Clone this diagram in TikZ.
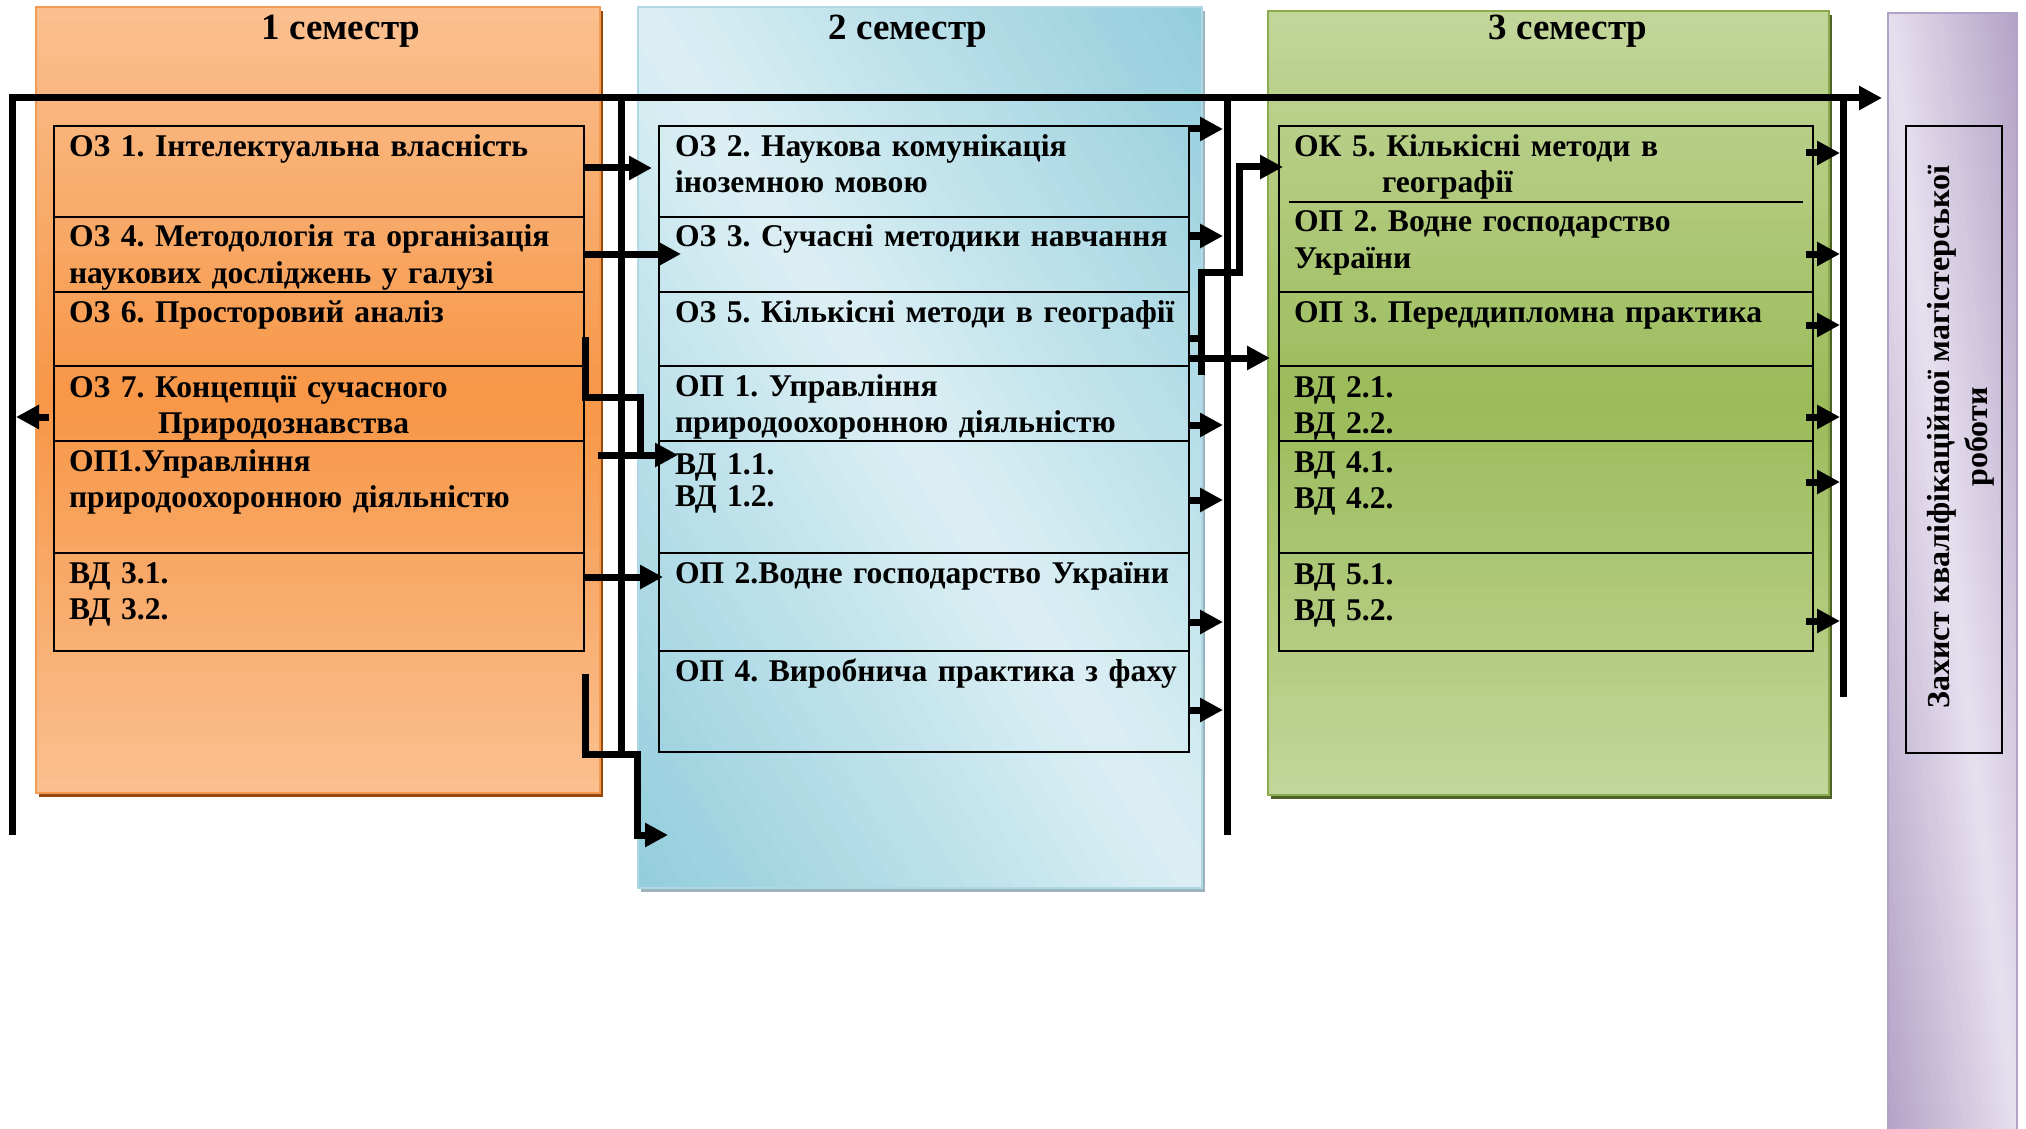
\documentclass[tikz,border=0pt]{standalone}
\usepackage{fontspec}
\setmainfont{Liberation Serif}
\usetikzlibrary{arrows.meta,calc}
\definecolor{orL}{HTML}{FAC090}
\definecolor{orD}{HTML}{F79646}
\definecolor{orS}{HTML}{984807}
\definecolor{orB}{HTML}{F49B53}
\definecolor{blL}{HTML}{DCEFF4}
\definecolor{blD}{HTML}{92CDDC}
\definecolor{blS}{HTML}{9BB3BC}
\definecolor{blB}{HTML}{B0D8E4}
\definecolor{grL}{HTML}{C3D69B}
\definecolor{grD}{HTML}{9BBB59}
\definecolor{grS}{HTML}{4F6228}
\definecolor{grB}{HTML}{8CAA4E}
\definecolor{puL}{HTML}{E6E0EE}
\definecolor{puD}{HTML}{B3A2C7}
\frenchspacing
\newcommand\myrowfont{\fontsize{15.8}{18}\selectfont\bfseries\frenchspacing}
\newcommand\mytitlefont{\fontsize{18.5}{22}\selectfont\bfseries}
\newcommand\mysidefont{\fontsize{16}{19}\selectfont\bfseries}
\begin{document}
\begin{tikzpicture}[x=0.5pt,y=-0.5pt,
  panel/.style={anchor=north west, inner sep=0pt, outer sep=0pt, line width=0.6pt},
  row/.style={draw, line width=1pt, anchor=north west, inner sep=0pt, outer sep=0pt},
  rt/.style={anchor=base west, inner sep=0pt, outer sep=0pt, font=\myrowfont, align=left, text width=275pt},
  ttl/.style={anchor=base, inner sep=0pt, font=\mytitlefont},
  conn/.style={line width=3.5pt, line join=miter},
  arr/.style={conn, -{Triangle[length=11.5pt,width=11.5pt]}}
]
\path[use as bounding box, fill=white] (0,0) rectangle (2026,1129);

% ---------- panel shadows ----------
\fill[orS] (39,11) rectangle (603,797);
\fill[blS] (641,11) rectangle (1205,892);
\fill[grS] (1271,15) rectangle (1832,799);

% ---------- panel gradients ----------
% orange: vertical light-dark-light
\foreach \i in {0,...,63}{
  \pgfmathtruncatemacro\pp{100*(1-abs(2*(\i+0.5)/64-1))}
  \fill[orD!\pp!orL] (36,{7+\i*12.28125}) rectangle (600,{7+(\i+1)*12.28125+0.8});
}
% green: vertical light-dark-light
\foreach \i in {0,...,63}{
  \pgfmathtruncatemacro\pp{100*(1-abs(2*(\i+0.5)/64-1))}
  \fill[grD!\pp!grL] (1268,{11+\i*12.25}) rectangle (1829,{11+(\i+1)*12.25+0.8});
}
% blue: diagonal, light along top-left to bottom-right
\begin{scope}
\clip (638,7) rectangle (1202,888);
\foreach \k in {0,...,47}{
  \pgfmathsetmacro\ta{-1+2*\k/48}
  \pgfmathsetmacro\tb{\ta+2/48+0.01}
  \pgfmathtruncatemacro\pp{100*abs(\ta+1/48)}
  \fill[blD!\pp!blL] ({638+\ta*564},7) -- ({638+\tb*564},7) -- ({638+(\tb+1)*564},888) -- ({638+(\ta+1)*564},888) -- cycle;
}
\end{scope}
% purple: diagonal
\begin{scope}
\clip (1888,13) rectangle (2017,1129);
\foreach \k in {0,...,47}{
  \pgfmathsetmacro\ta{-1+2*\k/48}
  \pgfmathsetmacro\tb{\ta+2/48+0.01}
  \pgfmathtruncatemacro\pp{100*abs(\ta+1/48)}
  \fill[puD!\pp!puL] ({1888+\ta*129},13) -- ({1888+\tb*129},13) -- ({1888+(\tb+1)*129},1129) -- ({1888+(\ta+1)*129},1129) -- cycle;
}
\end{scope}

% ---------- panels (outlines) ----------
\node[panel, minimum width=282pt, minimum height=393pt, draw=orB] (p1) at (36,7) {};
\node[panel, minimum width=282pt, minimum height=440.5pt, draw=blB] (p2) at (638,7) {};
\node[panel, minimum width=280.5pt, minimum height=392pt, draw=grB] (p3) at (1268,11) {};
\node[panel, minimum width=64.5pt, minimum height=560pt, draw=puD] (p4) at (1888,13) {};

% ---------- titles ----------
\node[ttl] (h1) at (341,40) {1 семестр};
\node[ttl] (h2) at (908,40) {2 семестр};
\node[ttl] (h3) at (1568,40) {3 семестр};

% ---------- table 1 ----------
\node[row, minimum width=265pt, minimum height=45.5pt] (r11) at (54,126) {};
\node[row, minimum width=265pt, minimum height=37.5pt] (r12) at (54,217) {};
\node[row, minimum width=265pt, minimum height=37pt]   (r13) at (54,292) {};
\node[row, minimum width=265pt, minimum height=37.5pt] (r14) at (54,366) {};
\node[row, minimum width=265pt, minimum height=56pt]   (r15) at (54,441) {};
\node[row, minimum width=265pt, minimum height=49pt]   (r16) at (54,553) {};
\node[rt] (t11) at ($(r11.north west)+(15,30)$) {ОЗ 1. Інтелектуальна власність};
\node[rt] (t12) at ($(r12.north west)+(15,30)$) {\makebox[250pt][s]{ОЗ 4. Методологія та організація}\\наукових досліджень у галузі};
\node[rt] (t13) at ($(r13.north west)+(15,30)$) {ОЗ 6. Просторовий аналіз};
\node[rt] (t14) at ($(r14.north west)+(15,31)$) {ОЗ 7. Концепції сучасного\\\hspace*{44.5pt}Природознавства};
\node[rt] (t15) at ($(r15.north west)+(15,30)$) {ОП1.Управління\\природоохоронною діяльністю};
\node[rt] (t16) at ($(r16.north west)+(15,30)$) {ВД 3.1.\\ВД 3.2.};

% ---------- table 2 ----------
\node[row, minimum width=265pt, minimum height=45.5pt] (r21) at (659,126) {};
\node[row, minimum width=265pt, minimum height=37.5pt] (r22) at (659,217) {};
\node[row, minimum width=265pt, minimum height=37pt]   (r23) at (659,292) {};
\node[row, minimum width=265pt, minimum height=37.5pt] (r24) at (659,366) {};
\node[row, minimum width=265pt, minimum height=56pt]   (r25) at (659,441) {};
\node[row, minimum width=265pt, minimum height=49pt]   (r26) at (659,553) {};
\node[row, minimum width=265pt, minimum height=50.5pt] (r27) at (659,651) {};
\node[rt] (t21) at ($(r21.north west)+(16,30)$) {ОЗ 2. Наукова комунікація\\іноземною мовою};
\node[rt] (t22) at ($(r22.north west)+(16,30)$) {ОЗ 3. Сучасні методики навчання};
\node[rt] (t23) at ($(r23.north west)+(16,30)$) {ОЗ 5. Кількісні методи в географії};
\node[rt] (t24) at ($(r24.north west)+(16,30)$) {ОП 1. Управління\\природоохоронною діяльністю};
\node[rt, font=\fontsize{15.8}{16}\selectfont\bfseries] (t25) at ($(r25.north west)+(16,33)$) {ВД 1.1.\\ВД 1.2.};
\node[rt] (t26) at ($(r26.north west)+(16,30)$) {ОП 2.Водне господарство України};
\node[rt] (t27) at ($(r27.north west)+(16,30)$) {ОП 4. Виробнича практика з фаху};

% ---------- table 3 ----------
\node[row, draw=none, minimum width=267pt, minimum height=38pt] (r31) at (1279,126) {};
\node[row, draw=none, minimum width=267pt, minimum height=45pt] (r32) at (1279,202) {};
\draw[line width=1pt] (r31.north west) rectangle (r32.south east);
\draw[line width=1pt] ($(r32.north west)+(10,0)$) -- ($(r32.north east)+(-10,0)$);
\node[row, minimum width=267pt, minimum height=37pt]   (r33) at (1279,292) {};
\node[row, minimum width=267pt, minimum height=37.5pt] (r34) at (1279,366) {};
\node[row, minimum width=267pt, minimum height=56pt]   (r35) at (1279,441) {};
\node[row, minimum width=267pt, minimum height=49pt]   (r36) at (1279,553) {};
\node[rt] (t31) at ($(r31.north west)+(15,30)$) {ОК 5. Кількісні методи в\\\hspace*{44pt}географії};
\node[rt] (t32) at ($(r32.north west)+(15,30)$) {ОП 2. Водне господарство\\України};
\node[rt] (t33) at ($(r33.north west)+(15,30)$) {ОП 3. Переддипломна практика};
\node[rt] (t34) at ($(r34.north west)+(15,31)$) {ВД 2.1.\\ВД 2.2.};
\node[rt] (t35) at ($(r35.north west)+(15,31)$) {ВД 4.1.\\ВД 4.2.};
\node[rt] (t36) at ($(r36.north west)+(15,31)$) {ВД 5.1.\\ВД 5.2.};

% ---------- final box ----------
\node[row, minimum width=48pt, minimum height=313.5pt] (pbox) at (1906,126) {};
\node[rotate=90, align=center, inner sep=0pt, font=\mysidefont] (ptxt) at (1961,437)
  {Захист кваліфікаційної магістерської\\роботи};

% ---------- buses ----------
\coordinate (L0) at (12,835);
\coordinate (L1) at (12,98);
\coordinate (B1t) at (621,98);
\coordinate (B1b) at (621,754);
\coordinate (B2t) at (1227,98);
\coordinate (B2b) at (1227,835);
\coordinate (B3t) at (1843,98);
\coordinate (B3b) at (1843,697);
\draw[arr] (L0) -- (L1) -- ($(p4.west |- L1)+(-6,0)$);
\draw[conn] (B1t) -- (B1b);
\draw[conn] (B2t) -- (B2b);
\draw[conn] (B3t) -- (B3b);

% ---------- table 1 connectors ----------
\draw[arr] ($(r11.north east)+(0,42)$) coordinate (s) -- ($(r21.north west |- s)+(-7,0)$);
\draw[arr] ($(r12.north east)+(0,37)$) coordinate (s) -- ($(r22.north west |- s)+(22,0)$);
\draw[conn] ($(r13.north east)+(1,45)$) -- ++(0,60) -- ++(55,0) -- ++(0,58);
\draw[arr] ($(r14.north west)+(-5,51)$) coordinate (s) -- ($(s -| L1)+(4,0)$);
\coordinate (s15) at ($(r15.north east)+(14,14)$);
\draw[arr] (s15) -- ($(r25.north west |- s15)+(19,0)$);
\draw[arr] ($(r16.north east)+(0,24)$) coordinate (s) -- ($(r26.north west |- s)+(4,0)$);
\draw[arr] ($(r16.south east)+(1,23)$) -- ++(0,80) -- ++(52,0) -- ++(0,81) -- ++(31,0);

% ---------- table 2 connectors ----------
\foreach \r/\dy in {21/3, 22/19, 24/59, 25/59, 26/69, 27/59}
  \draw[arr] ($(r\r.north east)+(-1,\dy)$) coordinate (s) -- ($(s -| B2t)+(-4,0)$);
\draw[conn] ($(r23.north east)+(0,46)$) -- ++(13,0);
\draw[arr] ($(r23.north east)+(12,83)$) -- ++(0,-103) -- ++(38,0) -- ++(0,-105) -- ($(r31.north west)+(4,41)$);
\draw[arr] ($(r23.north east)+(0,66)$) coordinate (s) -- ($(r33.north west |- s)+(-9,0)$);

% ---------- table 3 connectors ----------
\foreach \r/\dy in {31/27, 32/52, 33/33, 34/51, 35/41, 36/68}
  \draw[arr] ($(r\r.north east)+(-7,\dy)$) coordinate (s) -- ($(s -| B3t)+(-3,0)$);
\end{tikzpicture}
\end{document}
